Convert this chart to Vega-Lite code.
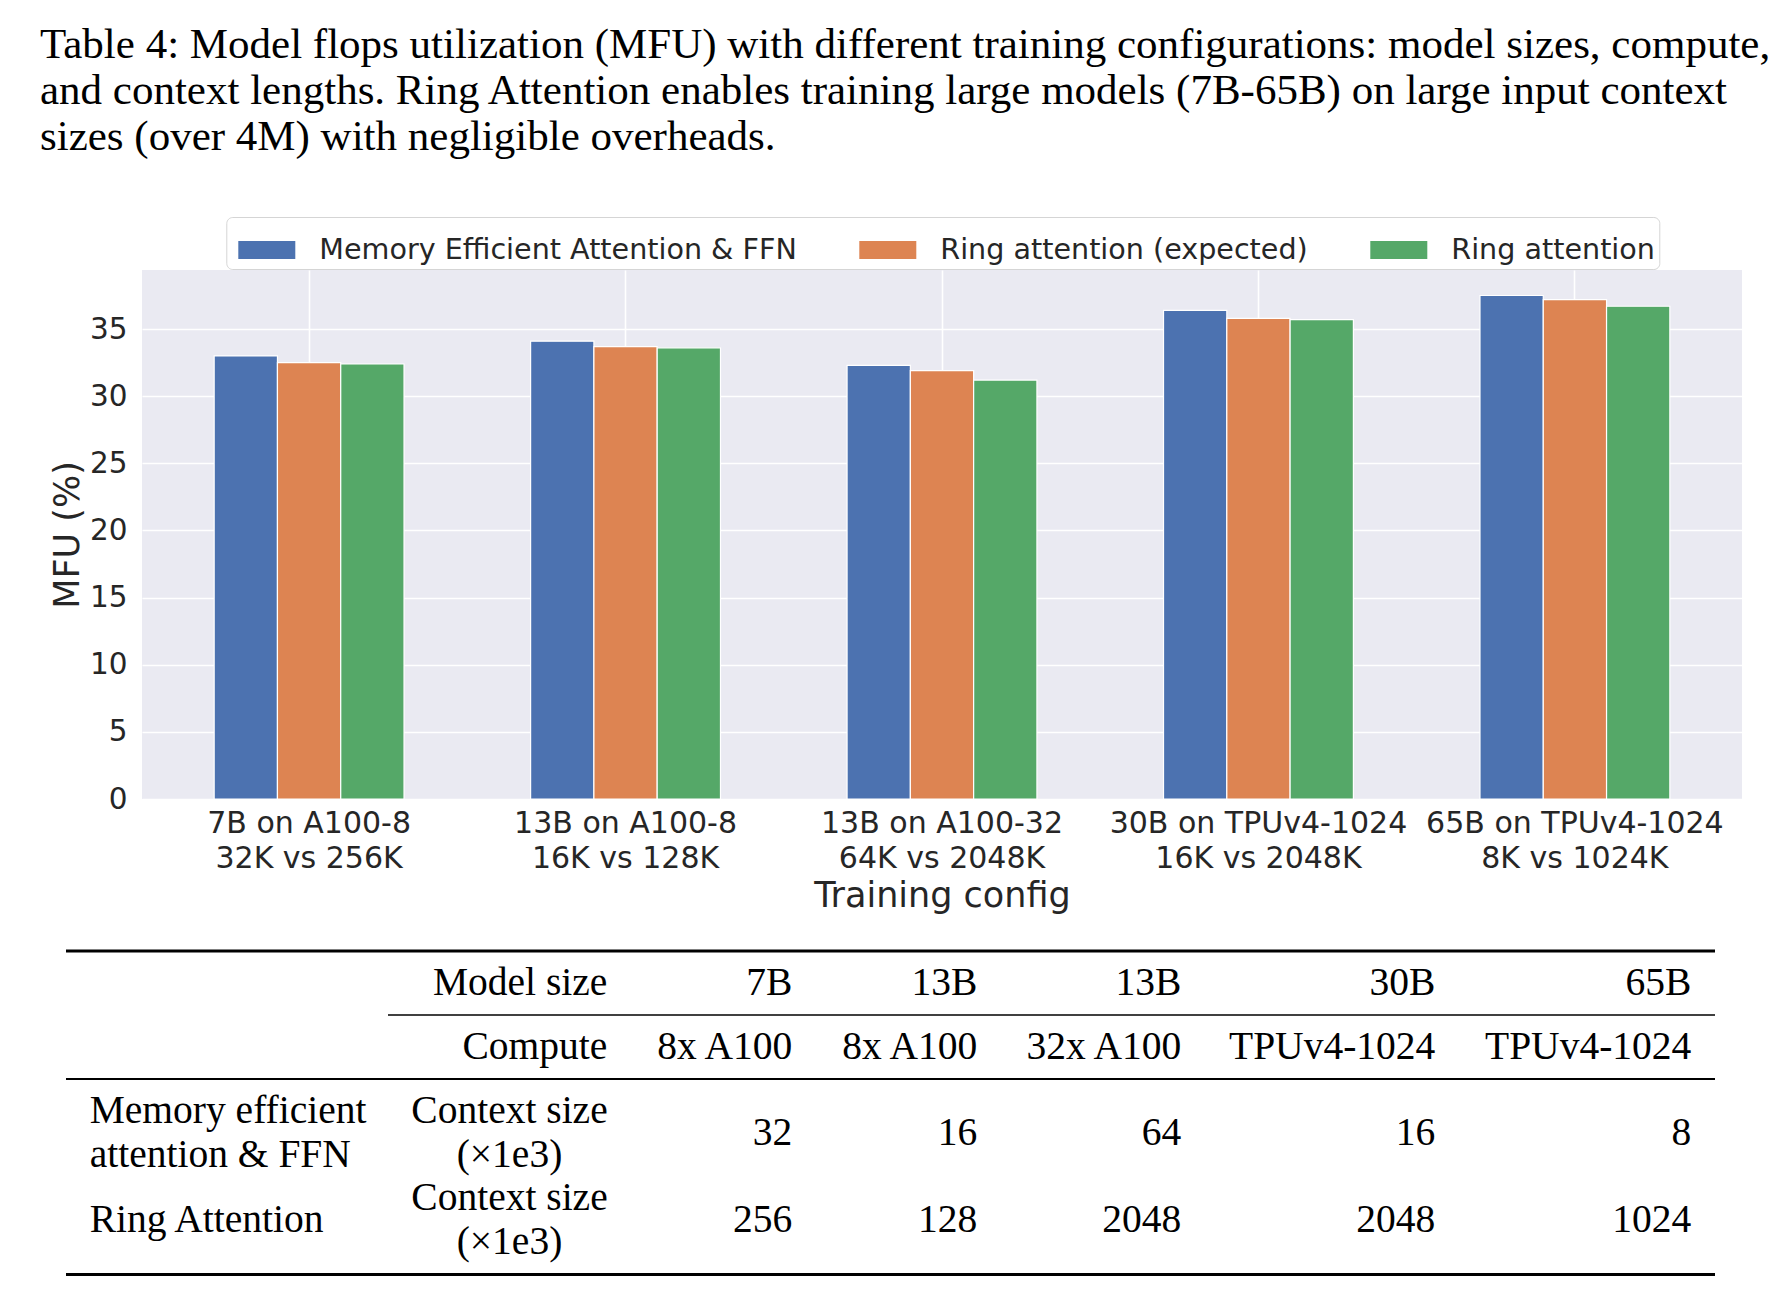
{
  "$schema": "https://vega.github.io/schema/vega-lite/v6.json",
  "background": "white",
  "padding": {"left": 40, "top": 24, "right": 5, "bottom": 5},
  "title": {
    "text": [
      "Table 4: Model flops utilization (MFU) with different training configurations: model sizes, compute,",
      "and context lengths. Ring Attention enables training large models (7B-65B) on large input context",
      "sizes (over 4M) with negligible overheads."
    ],
    "anchor": "start",
    "frame": "group",
    "dx": -26,
    "font": "Liberation Serif",
    "fontSize": 43,
    "fontWeight": "normal",
    "color": "black",
    "lineHeight": 46,
    "offset": 57.5
  },
  "datasets": {
    "mfu": [
      {"config": "7B on A100-8\n32K vs 256K", "method": "Memory Efficient Attention & FFN", "mfu": 33.0},
      {"config": "7B on A100-8\n32K vs 256K", "method": "Ring attention (expected)", "mfu": 32.5},
      {"config": "7B on A100-8\n32K vs 256K", "method": "Ring attention", "mfu": 32.4},
      {"config": "13B on A100-8\n16K vs 128K", "method": "Memory Efficient Attention & FFN", "mfu": 34.1},
      {"config": "13B on A100-8\n16K vs 128K", "method": "Ring attention (expected)", "mfu": 33.7},
      {"config": "13B on A100-8\n16K vs 128K", "method": "Ring attention", "mfu": 33.6},
      {"config": "13B on A100-32\n64K vs 2048K", "method": "Memory Efficient Attention & FFN", "mfu": 32.3},
      {"config": "13B on A100-32\n64K vs 2048K", "method": "Ring attention (expected)", "mfu": 31.9},
      {"config": "13B on A100-32\n64K vs 2048K", "method": "Ring attention", "mfu": 31.2},
      {"config": "30B on TPUv4-1024\n16K vs 2048K", "method": "Memory Efficient Attention & FFN", "mfu": 36.4},
      {"config": "30B on TPUv4-1024\n16K vs 2048K", "method": "Ring attention (expected)", "mfu": 35.8},
      {"config": "30B on TPUv4-1024\n16K vs 2048K", "method": "Ring attention", "mfu": 35.7},
      {"config": "65B on TPUv4-1024\n8K vs 1024K", "method": "Memory Efficient Attention & FFN", "mfu": 37.5},
      {"config": "65B on TPUv4-1024\n8K vs 1024K", "method": "Ring attention (expected)", "mfu": 37.2},
      {"config": "65B on TPUv4-1024\n8K vs 1024K", "method": "Ring attention", "mfu": 36.7}
    ],
    "cells": [
      {"part": "header", "row": "h1", "col": "c1", "text": "Model size"},
      {"part": "header", "row": "h1", "col": "c2", "text": "7B"},
      {"part": "header", "row": "h1", "col": "c3", "text": "13B"},
      {"part": "header", "row": "h1", "col": "c4", "text": "13B"},
      {"part": "header", "row": "h1", "col": "c5", "text": "30B"},
      {"part": "header", "row": "h1", "col": "c6", "text": "65B"},
      {"part": "header", "row": "h2", "col": "c1", "text": "Compute"},
      {"part": "header", "row": "h2", "col": "c2", "text": "8x A100"},
      {"part": "header", "row": "h2", "col": "c3", "text": "8x A100"},
      {"part": "header", "row": "h2", "col": "c4", "text": "32x A100"},
      {"part": "header", "row": "h2", "col": "c5", "text": "TPUv4-1024"},
      {"part": "header", "row": "h2", "col": "c6", "text": "TPUv4-1024"},
      {"part": "body", "row": "b1", "col": "c0", "text": "Memory efficient\nattention & FFN"},
      {"part": "body", "row": "b1", "col": "c1", "text": "Context size\n(×1e3)"},
      {"part": "body", "row": "b1", "col": "c2", "text": "32"},
      {"part": "body", "row": "b1", "col": "c3", "text": "16"},
      {"part": "body", "row": "b1", "col": "c4", "text": "64"},
      {"part": "body", "row": "b1", "col": "c5", "text": "16"},
      {"part": "body", "row": "b1", "col": "c6", "text": "8"},
      {"part": "body", "row": "b2", "col": "c0", "text": "Ring Attention"},
      {"part": "body", "row": "b2", "col": "c1", "text": "Context size\n(×1e3)"},
      {"part": "body", "row": "b2", "col": "c2", "text": "256"},
      {"part": "body", "row": "b2", "col": "c3", "text": "128"},
      {"part": "body", "row": "b2", "col": "c4", "text": "2048"},
      {"part": "body", "row": "b2", "col": "c5", "text": "2048"},
      {"part": "body", "row": "b2", "col": "c6", "text": "1024"}
    ],
    "rules": [
      {"kind": "top"},
      {"kind": "cmid"},
      {"kind": "sep"},
      {"kind": "bottom"}
    ],
    "none": []
  },
  "spacing": 36,
  "align": "none",
  "vconcat": [
    {
      "spacing": 0,
      "bounds": "flush",
      "hconcat": [
        {
          "width": 76,
          "height": 529,
          "data": {"name": "none"},
          "mark": {"type": "text"}
        },
        {
          "width": 1600,
          "height": 529,
          "view": {"fill": "#EAEAF2", "stroke": null},
          "data": {"name": "mfu"},
          "mark": {"type": "bar", "stroke": "white", "strokeWidth": 1.2},
          "encoding": {
            "x": {
              "field": "config", "type": "nominal", "sort": null, "title": "Training config",
              "scale": {"paddingInner": 0.4, "paddingOuter": 0.228},
              "axis": {
                "labelAngle": 0, "labelExpr": "split(datum.label, '\\n')", "labelLimit": 0,
                "labelFont": "DejaVu Sans", "labelFontSize": 30, "labelColor": "#262626",
                "labelLineHeight": 35, "labelPadding": 9, "ticks": false, "tickSize": 0,
                "domain": false, "grid": true, "gridColor": "white", "gridWidth": 1.6,
                "bandPosition": 0.5,
                "titleFont": "DejaVu Sans", "titleFontSize": 35, "titleFontWeight": "normal",
                "titleColor": "#262626", "titlePadding": 5
              }
            },
            "xOffset": {
              "field": "method", "type": "nominal",
              "sort": ["Memory Efficient Attention & FFN", "Ring attention (expected)", "Ring attention"],
              "scale": {"paddingInner": 0, "paddingOuter": 0}
            },
            "y": {
              "field": "mfu", "type": "quantitative", "title": "MFU (%)",
              "scale": {"domain": [0, 39.4], "nice": false, "zero": true},
              "axis": {
                "values": [0, 5, 10, 15, 20, 25, 30, 35],
                "labelFont": "DejaVu Sans", "labelFontSize": 29.5, "labelColor": "#262626",
                "labelPadding": 15, "ticks": false, "tickSize": 0, "domain": false,
                "grid": true, "gridColor": "white", "gridWidth": 1.6,
                "titleFont": "DejaVu Sans", "titleFontSize": 35, "titleFontWeight": "normal",
                "titleColor": "#262626", "titlePadding": 4
              }
            },
            "color": {
              "field": "method", "type": "nominal",
              "scale": {
                "domain": ["Memory Efficient Attention & FFN", "Ring attention (expected)", "Ring attention"],
                "range": ["#4C72B0", "#DD8452", "#55A868"]
              },
              "legend": {
                "orient": "none", "legendX": 160.3, "legendY": -53, "direction": "horizontal",
                "columns": 3, "title": null, "fillColor": "white", "strokeColor": "#d5d5d5",
                "cornerRadius": 6, "padding": 4, "symbolOffset": 8,
                "symbolType": "M-1,-0.316H1V0.316H-1Z", "symbolSize": 3249, "symbolStrokeWidth": 0,
                "symbolOpacity": 1,
                "labelFont": "DejaVu Sans", "labelFontSize": 28.6, "labelColor": "#262626",
                "labelOffset": 24, "columnPadding": 54, "labelLimit": 1000
              }
            }
          }
        }
      ]
    },
    {
      "spacing": 0,
      "vconcat": [
        {
          "spacing": 0,
          "bounds": "flush",
          "hconcat": [
            {
              "width": 322, "height": 128,
              "data": {"name": "rules"},
              "layer": [
                {"transform": [{"filter": "datum.kind == 'top'"}], "mark": {"type": "rule", "color": "black", "strokeWidth": 3},
                 "encoding": {"y": {"field": "kind", "type": "nominal", "scale": {"type": "point", "domain": ["top", "cmid", "sep"], "padding": 0}, "axis": null}}},
                {"transform": [{"filter": "datum.kind == 'sep'"}], "mark": {"type": "rule", "color": "black", "strokeWidth": 2},
                 "encoding": {"y": {"field": "kind", "type": "nominal", "scale": {"type": "point", "domain": ["top", "cmid", "sep"], "padding": 0}, "axis": null}}}
              ]
            },
            {
              "width": 243, "height": 128,
              "layer": [
                {"data": {"name": "rules"}, "transform": [{"filter": "datum.kind == 'top'"}], "mark": {"type": "rule", "color": "black", "strokeWidth": 3},
                 "encoding": {"y": {"field": "kind", "type": "nominal", "scale": {"type": "point", "domain": ["top", "cmid", "sep"], "padding": 0}, "axis": null}}},
                {"data": {"name": "rules"}, "transform": [{"filter": "datum.kind == 'cmid'"}], "mark": {"type": "rule", "color": "black", "strokeWidth": 1.5},
                 "encoding": {"y": {"field": "kind", "type": "nominal", "scale": {"type": "point", "domain": ["top", "cmid", "sep"], "padding": 0}, "axis": null}}},
                {"data": {"name": "rules"}, "transform": [{"filter": "datum.kind == 'sep'"}], "mark": {"type": "rule", "color": "black", "strokeWidth": 2},
                 "encoding": {"y": {"field": "kind", "type": "nominal", "scale": {"type": "point", "domain": ["top", "cmid", "sep"], "padding": 0}, "axis": null}}},
                {"data": {"name": "cells"}, "transform": [{"filter": "datum.part == 'header' && datum.col == 'c1'"}],
                 "mark": {"type": "text", "align": "right", "baseline": "middle", "dx": -23.7, "font": "Liberation Serif", "fontSize": 39.5, "color": "black"},
                 "encoding": {
                   "x": {"field": "col", "type": "nominal", "bandPosition": 1, "scale": {"type": "band", "paddingInner": 0, "paddingOuter": 0}, "axis": null},
                   "y": {"field": "row", "type": "nominal", "scale": {"type": "band", "domain": ["h1", "h2"], "paddingInner": 0, "paddingOuter": 0}, "axis": null},
                   "text": {"field": "text", "type": "nominal"}}}
              ],
              "resolve": {"scale": {"y": "independent"}}
            },
            {
              "width": 185, "height": 128,
              "layer": [
                {"data": {"name": "rules"}, "transform": [{"filter": "datum.kind == 'top'"}], "mark": {"type": "rule", "color": "black", "strokeWidth": 3},
                 "encoding": {"y": {"field": "kind", "type": "nominal", "scale": {"type": "point", "domain": ["top", "cmid", "sep"], "padding": 0}, "axis": null}}},
                {"data": {"name": "rules"}, "transform": [{"filter": "datum.kind == 'cmid'"}], "mark": {"type": "rule", "color": "black", "strokeWidth": 1.5},
                 "encoding": {"y": {"field": "kind", "type": "nominal", "scale": {"type": "point", "domain": ["top", "cmid", "sep"], "padding": 0}, "axis": null}}},
                {"data": {"name": "rules"}, "transform": [{"filter": "datum.kind == 'sep'"}], "mark": {"type": "rule", "color": "black", "strokeWidth": 2},
                 "encoding": {"y": {"field": "kind", "type": "nominal", "scale": {"type": "point", "domain": ["top", "cmid", "sep"], "padding": 0}, "axis": null}}},
                {"data": {"name": "cells"}, "transform": [{"filter": "datum.part == 'header' && datum.col == 'c2'"}],
                 "mark": {"type": "text", "align": "right", "baseline": "middle", "dx": -23.7, "font": "Liberation Serif", "fontSize": 39.5, "color": "black"},
                 "encoding": {
                   "x": {"field": "col", "type": "nominal", "bandPosition": 1, "scale": {"type": "band", "paddingInner": 0, "paddingOuter": 0}, "axis": null},
                   "y": {"field": "row", "type": "nominal", "scale": {"type": "band", "domain": ["h1", "h2"], "paddingInner": 0, "paddingOuter": 0}, "axis": null},
                   "text": {"field": "text", "type": "nominal"}}}
              ],
              "resolve": {"scale": {"y": "independent"}}
            },
            {
              "width": 185, "height": 128,
              "layer": [
                {"data": {"name": "rules"}, "transform": [{"filter": "datum.kind == 'top'"}], "mark": {"type": "rule", "color": "black", "strokeWidth": 3},
                 "encoding": {"y": {"field": "kind", "type": "nominal", "scale": {"type": "point", "domain": ["top", "cmid", "sep"], "padding": 0}, "axis": null}}},
                {"data": {"name": "rules"}, "transform": [{"filter": "datum.kind == 'cmid'"}], "mark": {"type": "rule", "color": "black", "strokeWidth": 1.5},
                 "encoding": {"y": {"field": "kind", "type": "nominal", "scale": {"type": "point", "domain": ["top", "cmid", "sep"], "padding": 0}, "axis": null}}},
                {"data": {"name": "rules"}, "transform": [{"filter": "datum.kind == 'sep'"}], "mark": {"type": "rule", "color": "black", "strokeWidth": 2},
                 "encoding": {"y": {"field": "kind", "type": "nominal", "scale": {"type": "point", "domain": ["top", "cmid", "sep"], "padding": 0}, "axis": null}}},
                {"data": {"name": "cells"}, "transform": [{"filter": "datum.part == 'header' && datum.col == 'c3'"}],
                 "mark": {"type": "text", "align": "right", "baseline": "middle", "dx": -23.7, "font": "Liberation Serif", "fontSize": 39.5, "color": "black"},
                 "encoding": {
                   "x": {"field": "col", "type": "nominal", "bandPosition": 1, "scale": {"type": "band", "paddingInner": 0, "paddingOuter": 0}, "axis": null},
                   "y": {"field": "row", "type": "nominal", "scale": {"type": "band", "domain": ["h1", "h2"], "paddingInner": 0, "paddingOuter": 0}, "axis": null},
                   "text": {"field": "text", "type": "nominal"}}}
              ],
              "resolve": {"scale": {"y": "independent"}}
            },
            {
              "width": 204, "height": 128,
              "layer": [
                {"data": {"name": "rules"}, "transform": [{"filter": "datum.kind == 'top'"}], "mark": {"type": "rule", "color": "black", "strokeWidth": 3},
                 "encoding": {"y": {"field": "kind", "type": "nominal", "scale": {"type": "point", "domain": ["top", "cmid", "sep"], "padding": 0}, "axis": null}}},
                {"data": {"name": "rules"}, "transform": [{"filter": "datum.kind == 'cmid'"}], "mark": {"type": "rule", "color": "black", "strokeWidth": 1.5},
                 "encoding": {"y": {"field": "kind", "type": "nominal", "scale": {"type": "point", "domain": ["top", "cmid", "sep"], "padding": 0}, "axis": null}}},
                {"data": {"name": "rules"}, "transform": [{"filter": "datum.kind == 'sep'"}], "mark": {"type": "rule", "color": "black", "strokeWidth": 2},
                 "encoding": {"y": {"field": "kind", "type": "nominal", "scale": {"type": "point", "domain": ["top", "cmid", "sep"], "padding": 0}, "axis": null}}},
                {"data": {"name": "cells"}, "transform": [{"filter": "datum.part == 'header' && datum.col == 'c4'"}],
                 "mark": {"type": "text", "align": "right", "baseline": "middle", "dx": -23.7, "font": "Liberation Serif", "fontSize": 39.5, "color": "black"},
                 "encoding": {
                   "x": {"field": "col", "type": "nominal", "bandPosition": 1, "scale": {"type": "band", "paddingInner": 0, "paddingOuter": 0}, "axis": null},
                   "y": {"field": "row", "type": "nominal", "scale": {"type": "band", "domain": ["h1", "h2"], "paddingInner": 0, "paddingOuter": 0}, "axis": null},
                   "text": {"field": "text", "type": "nominal"}}}
              ],
              "resolve": {"scale": {"y": "independent"}}
            },
            {
              "width": 254, "height": 128,
              "layer": [
                {"data": {"name": "rules"}, "transform": [{"filter": "datum.kind == 'top'"}], "mark": {"type": "rule", "color": "black", "strokeWidth": 3},
                 "encoding": {"y": {"field": "kind", "type": "nominal", "scale": {"type": "point", "domain": ["top", "cmid", "sep"], "padding": 0}, "axis": null}}},
                {"data": {"name": "rules"}, "transform": [{"filter": "datum.kind == 'cmid'"}], "mark": {"type": "rule", "color": "black", "strokeWidth": 1.5},
                 "encoding": {"y": {"field": "kind", "type": "nominal", "scale": {"type": "point", "domain": ["top", "cmid", "sep"], "padding": 0}, "axis": null}}},
                {"data": {"name": "rules"}, "transform": [{"filter": "datum.kind == 'sep'"}], "mark": {"type": "rule", "color": "black", "strokeWidth": 2},
                 "encoding": {"y": {"field": "kind", "type": "nominal", "scale": {"type": "point", "domain": ["top", "cmid", "sep"], "padding": 0}, "axis": null}}},
                {"data": {"name": "cells"}, "transform": [{"filter": "datum.part == 'header' && datum.col == 'c5'"}],
                 "mark": {"type": "text", "align": "right", "baseline": "middle", "dx": -23.7, "font": "Liberation Serif", "fontSize": 39.5, "color": "black"},
                 "encoding": {
                   "x": {"field": "col", "type": "nominal", "bandPosition": 1, "scale": {"type": "band", "paddingInner": 0, "paddingOuter": 0}, "axis": null},
                   "y": {"field": "row", "type": "nominal", "scale": {"type": "band", "domain": ["h1", "h2"], "paddingInner": 0, "paddingOuter": 0}, "axis": null},
                   "text": {"field": "text", "type": "nominal"}}}
              ],
              "resolve": {"scale": {"y": "independent"}}
            },
            {
              "width": 256, "height": 128,
              "layer": [
                {"data": {"name": "rules"}, "transform": [{"filter": "datum.kind == 'top'"}], "mark": {"type": "rule", "color": "black", "strokeWidth": 3},
                 "encoding": {"y": {"field": "kind", "type": "nominal", "scale": {"type": "point", "domain": ["top", "cmid", "sep"], "padding": 0}, "axis": null}}},
                {"data": {"name": "rules"}, "transform": [{"filter": "datum.kind == 'cmid'"}], "mark": {"type": "rule", "color": "black", "strokeWidth": 1.5},
                 "encoding": {"y": {"field": "kind", "type": "nominal", "scale": {"type": "point", "domain": ["top", "cmid", "sep"], "padding": 0}, "axis": null}}},
                {"data": {"name": "rules"}, "transform": [{"filter": "datum.kind == 'sep'"}], "mark": {"type": "rule", "color": "black", "strokeWidth": 2},
                 "encoding": {"y": {"field": "kind", "type": "nominal", "scale": {"type": "point", "domain": ["top", "cmid", "sep"], "padding": 0}, "axis": null}}},
                {"data": {"name": "cells"}, "transform": [{"filter": "datum.part == 'header' && datum.col == 'c6'"}],
                 "mark": {"type": "text", "align": "right", "baseline": "middle", "dx": -23.7, "font": "Liberation Serif", "fontSize": 39.5, "color": "black"},
                 "encoding": {
                   "x": {"field": "col", "type": "nominal", "bandPosition": 1, "scale": {"type": "band", "paddingInner": 0, "paddingOuter": 0}, "axis": null},
                   "y": {"field": "row", "type": "nominal", "scale": {"type": "band", "domain": ["h1", "h2"], "paddingInner": 0, "paddingOuter": 0}, "axis": null},
                   "text": {"field": "text", "type": "nominal"}}}
              ],
              "resolve": {"scale": {"y": "independent"}}
            }
          ]
        },
        {
          "spacing": 0,
          "bounds": "flush",
          "hconcat": [
            {
              "width": 322, "height": 194.5,
              "layer": [
                {"data": {"name": "rules"}, "transform": [{"filter": "datum.kind == 'bottom'"}], "mark": {"type": "rule", "color": "black", "strokeWidth": 3},
                 "encoding": {"y": {"field": "kind", "type": "nominal", "scale": {"type": "point", "domain": ["sep", "bottom"], "padding": 0}, "axis": null}}},
                {"data": {"name": "cells"}, "transform": [{"filter": "datum.part == 'body' && datum.col == 'c0' && indexof(datum.text, '\\n') >= 0"}],
                 "mark": {"type": "text", "align": "left", "baseline": "middle", "dx": 23.7, "dy": -21.75, "lineBreak": "\n", "lineHeight": 43.5, "font": "Liberation Serif", "fontSize": 39.5, "color": "black"},
                 "encoding": {
                   "x": {"field": "col", "type": "nominal", "bandPosition": 0, "scale": {"type": "band", "paddingInner": 0, "paddingOuter": 0}, "axis": null},
                   "y": {"field": "row", "type": "nominal", "scale": {"type": "band", "domain": ["b1", "b2"], "paddingInner": 0, "paddingOuter": 0.118, "align": 0.47}, "axis": null},
                   "text": {"field": "text", "type": "nominal"}}},
                {"data": {"name": "cells"}, "transform": [{"filter": "datum.part == 'body' && datum.col == 'c0' && indexof(datum.text, '\\n') < 0"}],
                 "mark": {"type": "text", "align": "left", "baseline": "middle", "dx": 23.7, "font": "Liberation Serif", "fontSize": 39.5, "color": "black"},
                 "encoding": {
                   "x": {"field": "col", "type": "nominal", "bandPosition": 0, "scale": {"type": "band", "paddingInner": 0, "paddingOuter": 0}, "axis": null},
                   "y": {"field": "row", "type": "nominal", "scale": {"type": "band", "domain": ["b1", "b2"], "paddingInner": 0, "paddingOuter": 0.118, "align": 0.47}, "axis": null},
                   "text": {"field": "text", "type": "nominal"}}}
              ],
              "resolve": {"scale": {"y": "independent", "x": "independent"}}
            },
            {
              "width": 243, "height": 194.5,
              "layer": [
                {"data": {"name": "rules"}, "transform": [{"filter": "datum.kind == 'bottom'"}], "mark": {"type": "rule", "color": "black", "strokeWidth": 3},
                 "encoding": {"y": {"field": "kind", "type": "nominal", "scale": {"type": "point", "domain": ["sep", "bottom"], "padding": 0}, "axis": null}}},
                {"data": {"name": "cells"}, "transform": [{"filter": "datum.part == 'body' && datum.col == 'c1'"}],
                 "mark": {"type": "text", "align": "center", "baseline": "middle", "dy": -21.75, "lineBreak": "\n", "lineHeight": 43.5, "font": "Liberation Serif", "fontSize": 39.5, "color": "black"},
                 "encoding": {
                   "x": {"field": "col", "type": "nominal", "bandPosition": 0.5, "scale": {"type": "band", "paddingInner": 0, "paddingOuter": 0}, "axis": null},
                   "y": {"field": "row", "type": "nominal", "scale": {"type": "band", "domain": ["b1", "b2"], "paddingInner": 0, "paddingOuter": 0.118, "align": 0.47}, "axis": null},
                   "text": {"field": "text", "type": "nominal"}}}
              ],
              "resolve": {"scale": {"y": "independent"}}
            },
            {
              "width": 185, "height": 194.5,
              "layer": [
                {"data": {"name": "rules"}, "transform": [{"filter": "datum.kind == 'bottom'"}], "mark": {"type": "rule", "color": "black", "strokeWidth": 3},
                 "encoding": {"y": {"field": "kind", "type": "nominal", "scale": {"type": "point", "domain": ["sep", "bottom"], "padding": 0}, "axis": null}}},
                {"data": {"name": "cells"}, "transform": [{"filter": "datum.part == 'body' && datum.col == 'c2'"}],
                 "mark": {"type": "text", "align": "right", "baseline": "middle", "dx": -23.7, "font": "Liberation Serif", "fontSize": 39.5, "color": "black"},
                 "encoding": {
                   "x": {"field": "col", "type": "nominal", "bandPosition": 1, "scale": {"type": "band", "paddingInner": 0, "paddingOuter": 0}, "axis": null},
                   "y": {"field": "row", "type": "nominal", "scale": {"type": "band", "domain": ["b1", "b2"], "paddingInner": 0, "paddingOuter": 0.118, "align": 0.47}, "axis": null},
                   "text": {"field": "text", "type": "nominal"}}}
              ],
              "resolve": {"scale": {"y": "independent"}}
            },
            {
              "width": 185, "height": 194.5,
              "layer": [
                {"data": {"name": "rules"}, "transform": [{"filter": "datum.kind == 'bottom'"}], "mark": {"type": "rule", "color": "black", "strokeWidth": 3},
                 "encoding": {"y": {"field": "kind", "type": "nominal", "scale": {"type": "point", "domain": ["sep", "bottom"], "padding": 0}, "axis": null}}},
                {"data": {"name": "cells"}, "transform": [{"filter": "datum.part == 'body' && datum.col == 'c3'"}],
                 "mark": {"type": "text", "align": "right", "baseline": "middle", "dx": -23.7, "font": "Liberation Serif", "fontSize": 39.5, "color": "black"},
                 "encoding": {
                   "x": {"field": "col", "type": "nominal", "bandPosition": 1, "scale": {"type": "band", "paddingInner": 0, "paddingOuter": 0}, "axis": null},
                   "y": {"field": "row", "type": "nominal", "scale": {"type": "band", "domain": ["b1", "b2"], "paddingInner": 0, "paddingOuter": 0.118, "align": 0.47}, "axis": null},
                   "text": {"field": "text", "type": "nominal"}}}
              ],
              "resolve": {"scale": {"y": "independent"}}
            },
            {
              "width": 204, "height": 194.5,
              "layer": [
                {"data": {"name": "rules"}, "transform": [{"filter": "datum.kind == 'bottom'"}], "mark": {"type": "rule", "color": "black", "strokeWidth": 3},
                 "encoding": {"y": {"field": "kind", "type": "nominal", "scale": {"type": "point", "domain": ["sep", "bottom"], "padding": 0}, "axis": null}}},
                {"data": {"name": "cells"}, "transform": [{"filter": "datum.part == 'body' && datum.col == 'c4'"}],
                 "mark": {"type": "text", "align": "right", "baseline": "middle", "dx": -23.7, "font": "Liberation Serif", "fontSize": 39.5, "color": "black"},
                 "encoding": {
                   "x": {"field": "col", "type": "nominal", "bandPosition": 1, "scale": {"type": "band", "paddingInner": 0, "paddingOuter": 0}, "axis": null},
                   "y": {"field": "row", "type": "nominal", "scale": {"type": "band", "domain": ["b1", "b2"], "paddingInner": 0, "paddingOuter": 0.118, "align": 0.47}, "axis": null},
                   "text": {"field": "text", "type": "nominal"}}}
              ],
              "resolve": {"scale": {"y": "independent"}}
            },
            {
              "width": 254, "height": 194.5,
              "layer": [
                {"data": {"name": "rules"}, "transform": [{"filter": "datum.kind == 'bottom'"}], "mark": {"type": "rule", "color": "black", "strokeWidth": 3},
                 "encoding": {"y": {"field": "kind", "type": "nominal", "scale": {"type": "point", "domain": ["sep", "bottom"], "padding": 0}, "axis": null}}},
                {"data": {"name": "cells"}, "transform": [{"filter": "datum.part == 'body' && datum.col == 'c5'"}],
                 "mark": {"type": "text", "align": "right", "baseline": "middle", "dx": -23.7, "font": "Liberation Serif", "fontSize": 39.5, "color": "black"},
                 "encoding": {
                   "x": {"field": "col", "type": "nominal", "bandPosition": 1, "scale": {"type": "band", "paddingInner": 0, "paddingOuter": 0}, "axis": null},
                   "y": {"field": "row", "type": "nominal", "scale": {"type": "band", "domain": ["b1", "b2"], "paddingInner": 0, "paddingOuter": 0.118, "align": 0.47}, "axis": null},
                   "text": {"field": "text", "type": "nominal"}}}
              ],
              "resolve": {"scale": {"y": "independent"}}
            },
            {
              "width": 256, "height": 194.5,
              "layer": [
                {"data": {"name": "rules"}, "transform": [{"filter": "datum.kind == 'bottom'"}], "mark": {"type": "rule", "color": "black", "strokeWidth": 3},
                 "encoding": {"y": {"field": "kind", "type": "nominal", "scale": {"type": "point", "domain": ["sep", "bottom"], "padding": 0}, "axis": null}}},
                {"data": {"name": "cells"}, "transform": [{"filter": "datum.part == 'body' && datum.col == 'c6'"}],
                 "mark": {"type": "text", "align": "right", "baseline": "middle", "dx": -23.7, "font": "Liberation Serif", "fontSize": 39.5, "color": "black"},
                 "encoding": {
                   "x": {"field": "col", "type": "nominal", "bandPosition": 1, "scale": {"type": "band", "paddingInner": 0, "paddingOuter": 0}, "axis": null},
                   "y": {"field": "row", "type": "nominal", "scale": {"type": "band", "domain": ["b1", "b2"], "paddingInner": 0, "paddingOuter": 0.118, "align": 0.47}, "axis": null},
                   "text": {"field": "text", "type": "nominal"}}}
              ],
              "resolve": {"scale": {"y": "independent"}}
            }
          ]
        }
      ]
    }
  ],
  "config": {
    "view": {"stroke": null},
    "font": "DejaVu Sans"
  }
}
